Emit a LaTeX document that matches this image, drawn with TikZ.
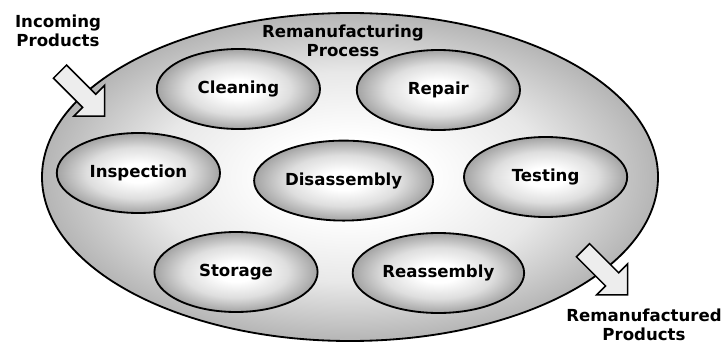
\documentclass[tikz,border=0pt]{standalone}
\usepackage{fontspec}
\setmainfont{DejaVu Sans}
\usetikzlibrary{shapes.geometric, shapes.arrows}

\pgfdeclareradialshading{glow}{\pgfpoint{0cm}{0cm}}{color(0bp)=(white); color(6bp)=(white); color(16bp)=(black!9); color(25bp)=(black!29); color(50bp)=(black!29)}
\pgfdeclareradialshading{stepglow}{\pgfpoint{0cm}{0cm}}{color(0bp)=(white); color(6bp)=(white); color(16bp)=(black!13); color(25bp)=(black!36); color(50bp)=(black!36)}

\begin{document}
\begin{tikzpicture}[
	step box/.style = {ellipse, draw, line width = 1.3pt, shading = stepglow, minimum width = 4.08cm, minimum height = 2cm, font = \fontsize{11.8}{13.5}\selectfont\bfseries},
	label text/.style = {align = center, font = \fontsize{11.8}{13.5}\selectfont\bfseries},
	flow/.style = {single arrow, draw, line width = 1.1pt, fill = black!7, inner sep = 0pt, inner ysep = 0.2125cm, single arrow tip angle = 90, single arrow head extend = 0.3125cm, minimum height = 1.575cm, rotate = -45}]

	\useasboundingbox (0, 0) rectangle (18.1, 8.625);

	% Process ellipse

	\node[ellipse, draw, line width = 1.3pt, shading = glow, minimum width = 15.4cm, minimum height = 8.2cm] (process) at (8.75, 4.2) {};
	\node[label text] (title) at (8.575, 7.6) {Remanufacturing\\ Process};

	% Steps

	\node[step box] (clean) at (5.96, 6.4) {Cleaning};
	\node[step box] (repair) at (10.96, 6.375) {Repair};
	\node[step box] (insp) at (3.46, 4.3) {Inspection};
	\node[step box] (disas) at (8.59, 4.11) {Disassembly};
	\node[step box] (test) at (13.64, 4.2) {Testing};
	\node[step box] (store) at (5.9, 1.825) {Storage};
	\node[step box] (reas) at (10.96, 1.8) {Reassembly};

	% Products in and out

	\node[label text] (in) at (1.45, 7.85) {Incoming\\ Products};
	\node[flow] (inflow) at (1.975, 6.36) {};

	\node[label text] (out) at (16.1, 0.5) {Remanufactured\\ Products};
	\node[flow] (outflow) at (15.05, 1.894) {};

\end{tikzpicture}
\end{document}
